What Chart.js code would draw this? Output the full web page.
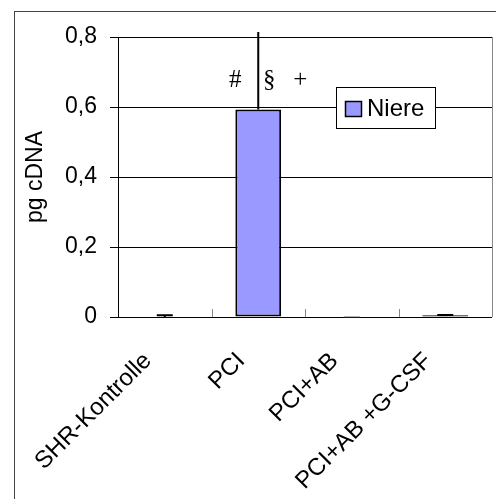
<!DOCTYPE html>
<html>
<head>
<meta charset="utf-8">
<script src="https://cdn.jsdelivr.net/npm/chart.js@4.4.0/dist/chart.umd.min.js"></script>
<style>
  html, body { margin: 0; padding: 0; background: #fff; }
  #wrap { width: 496px; height: 499px; position: relative; }
</style>
</head>
<body>
<div id="wrap"><canvas id="grafico"></canvas></div>
<script>
// Dados
const categorias = ['SHR-Kontrolle', 'PCI', 'PCI+AB', 'PCI+AB +G-CSF'];
const valores = [0.0, 0.593, 0.0, 0.005];
const erros = [0.005, 0.23, 0.001, 0.001];
const rotuloSerie = 'Niere';
const rotulosY = ['0', '0,2', '0,4', '0,6', '0,8'];
const simbolos = ['#', '§', '+'];
const alturaSimbolos = 0.677;

const corBarra = '#9999FF';
const fonteSans = "'Liberation Sans', Arial, sans-serif";
const fonteSerif = "'Liberation Serif', 'Times New Roman', serif";

// moldura externa, borda direita do gráfico e tracinhos do eixo x
const molduraPlugin = {
  id: 'moldura',
  beforeDraw(chart) {
    const ctx = chart.ctx;
    ctx.save();
    ctx.strokeStyle = '#444';
    ctx.lineWidth = 1;
    ctx.strokeRect(14.5, 11.5, chart.width + 20, chart.height + 20);
    ctx.restore();
  },
  afterDraw(chart) {
    const ctx = chart.ctx;
    const area = chart.chartArea;
    const x = chart.scales.x;
    ctx.save();
    ctx.strokeStyle = '#888';
    ctx.lineWidth = 1;
    ctx.beginPath();
    ctx.moveTo(Math.round(area.right) + 0.5, area.top);
    ctx.lineTo(Math.round(area.right) + 0.5, area.bottom);
    for (let i = 0; i < categorias.length - 1; i++) {
      const px = Math.round((x.getPixelForValue(i) + x.getPixelForValue(i + 1)) / 2) + 0.5;
      ctx.moveTo(px, area.bottom);
      ctx.lineTo(px, area.bottom - 8);
    }
    ctx.stroke();
    ctx.restore();
  }
};

// barras de erro
const errosPlugin = {
  id: 'erros',
  afterDatasetsDraw(chart) {
    const ctx = chart.ctx;
    const y = chart.scales.y;
    const area = chart.chartArea;
    const meta = chart.getDatasetMeta(0);
    ctx.save();
    ctx.beginPath();
    ctx.rect(0, area.top - 5, chart.width, chart.height);
    ctx.clip();
    meta.data.forEach((bar, i) => {
      if (!erros[i]) return;
      const topo = y.getPixelForValue(valores[i] + erros[i]);
      const base = y.getPixelForValue(valores[i]);
      // erro muito pequeno aparece só como traço cinza fino
      const fino = erros[i] < 0.002 && valores[i] === 0;
      ctx.strokeStyle = fino ? '#aaa' : '#000';
      ctx.lineWidth = fino ? 1 : 2;
      ctx.beginPath();
      ctx.moveTo(bar.x, base);
      ctx.lineTo(bar.x, topo);
      ctx.moveTo(bar.x - 8, topo);
      ctx.lineTo(bar.x + 8, topo);
      ctx.stroke();
    });
    ctx.restore();

    // símbolos de significância sobre a barra PCI
    const pci = meta.data[1];
    const sy = y.getPixelForValue(alturaSimbolos);
    const desloc = [-23, 11, 42];
    ctx.save();
    ctx.fillStyle = '#000';
    ctx.font = '25px ' + fonteSerif;
    ctx.textAlign = 'center';
    ctx.textBaseline = 'middle';
    simbolos.forEach((s, i) => ctx.fillText(s, pci.x + desloc[i], sy));
    ctx.restore();
  }
};

// legenda dentro da área
const legendaPlugin = {
  id: 'legenda',
  afterDraw(chart) {
    const ctx = chart.ctx;
    const ds = chart.data.datasets[0];
    const bx = 336.5, by = 87.5, bw = 99, bh = 41;
    ctx.save();
    ctx.fillStyle = '#fff';
    ctx.fillRect(bx, by, bw, bh);
    ctx.strokeStyle = '#000';
    ctx.lineWidth = 1;
    ctx.strokeRect(bx, by, bw, bh);
    ctx.fillStyle = ds.backgroundColor;
    ctx.fillRect(345.5, 101.5, 16, 15);
    ctx.lineWidth = 1.5;
    ctx.strokeRect(345.5, 101.5, 16, 15);
    ctx.fillStyle = '#000';
    ctx.font = '24px ' + fonteSans;
    ctx.textBaseline = 'alphabetic';
    ctx.fillText(ds.label, 367, 116);
    ctx.restore();
  }
};

new Chart(document.getElementById('grafico'), {
  type: 'bar',
  data: {
    labels: categorias,
    datasets: [{
      label: rotuloSerie,
      data: valores,
      backgroundColor: corBarra,
      borderColor: '#000',
      borderWidth: 2,
      borderSkipped: false,
      barPercentage: 0.49,
      categoryPercentage: 1
    }]
  },
  options: {
    responsive: true,
    maintainAspectRatio: false,
    animation: false,
    layout: { padding: { top: 37, right: 3, left: 0, bottom: 0 } },
    plugins: {
      legend: { display: false },
      tooltip: { enabled: false }
    },
    scales: {
      x: {
        grid: { display: false, drawTicks: false },
        border: { display: false },
        ticks: {
          color: '#000',
          font: { family: fonteSans, size: 24 },
          minRotation: 45,
          maxRotation: 45,
          padding: 30,
          labelOffset: -17
        },
        afterFit(scale) { scale.height = 182; }
      },
      y: {
        min: 0,
        max: 0.8,
        grid: { color: '#000', lineWidth: 1, tickLength: 8, tickColor: '#000' },
        border: { display: true, color: '#000', width: 1 },
        ticks: {
          stepSize: 0.2,
          color: '#000',
          padding: 13,
          font: { family: fonteSans, size: 23 },
          callback: (v, i) => rotulosY[i]
        },
        title: {
          display: true,
          text: 'pg cDNA',
          color: '#000',
          font: { family: fonteSans, size: 23 },
          padding: { top: 22, bottom: 0 }
        },
        afterFit(scale) { scale.width = 118; }
      }
    }
  },
  plugins: [molduraPlugin, errosPlugin, legendaPlugin]
});
</script>
</body>
</html>
